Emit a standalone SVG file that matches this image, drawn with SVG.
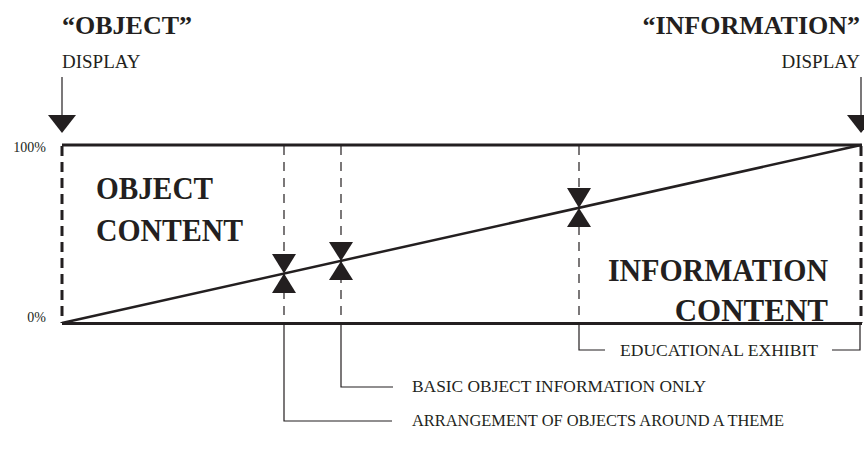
<svg xmlns="http://www.w3.org/2000/svg" width="864" height="455" viewBox="0 0 864 455">
<style>
.bt{font-family:"Liberation Serif","Times New Roman",serif;font-weight:bold;fill:#231f20}
.rt{font-family:"Liberation Serif","Times New Roman",serif;fill:#231f20}
.frame{stroke:#231f20;stroke-width:3;fill:none}
.edge{stroke:#231f20;stroke-width:3;stroke-dasharray:10 6;fill:none}
.guide{stroke:#231f20;stroke-width:1.2;stroke-dasharray:9 7;fill:none}
.lead{stroke:#231f20;stroke-width:1.2;fill:none}
.diag{stroke:#231f20;stroke-width:2.5;fill:none}
.tri{fill:#231f20}
</style>
<rect width="864" height="455" fill="#ffffff"/>
<g id="header-object">
<text class="bt" x="62" y="34" font-size="26">“OBJECT”</text>
<text class="rt" x="62" y="68" font-size="19">DISPLAY</text>
<line class="lead" x1="62" y1="77" x2="62" y2="118" stroke-width="1.5"/>
<polygon class="tri" points="48,115 76,115 62,133"/>
</g>
<g id="header-information">
<text class="bt" x="860" y="34" font-size="26" text-anchor="end">“INFORMATION”</text>
<text class="rt" x="860" y="68" font-size="19" text-anchor="end">DISPLAY</text>
<line class="lead" x1="861" y1="77" x2="861" y2="118" stroke-width="1.5"/>
<polygon class="tri" points="847,115 875,115 861,133"/>
</g>
<g id="chart">
<text class="rt" x="46" y="152" font-size="14" text-anchor="end">100%</text>
<text class="rt" x="46" y="322" font-size="14" text-anchor="end">0%</text>
<line class="frame" x1="62" y1="145" x2="862" y2="145"/>
<line class="frame" x1="62" y1="323.5" x2="862" y2="323.5"/>
<line class="edge" x1="62" y1="146" x2="62" y2="323"/>
<line class="edge" x1="861" y1="146" x2="861" y2="323"/>
<line class="diag" x1="62" y1="323" x2="861" y2="145"/>
</g>
<g id="object-content">
<text class="bt" x="96" y="199" font-size="31" textLength="117" lengthAdjust="spacingAndGlyphs">OBJECT</text>
<text class="bt" x="96" y="241" font-size="31" textLength="147" lengthAdjust="spacingAndGlyphs">CONTENT</text>
</g>
<g id="information-content">
<text class="bt" x="608" y="281" font-size="31" textLength="220" lengthAdjust="spacingAndGlyphs">INFORMATION</text>
<text class="bt" x="828" y="321" font-size="31" text-anchor="end">CONTENT</text>
</g>
<g id="connectors">
<line class="guide" x1="284" y1="146" x2="284" y2="323"/>
<line class="guide" x1="341" y1="146" x2="341" y2="323"/>
<line class="guide" x1="579" y1="146" x2="579" y2="323"/>
<polyline class="lead" points="284,323 284,421 392,421"/>
<polyline class="lead" points="341,323 341,387 393,387"/>
<polyline class="lead" points="579,323 579,350 605,350"/>
<polyline class="lead" points="832,350 860,350 860,323"/>
</g>
<g id="marker-arrangement">
<polygon class="tri" points="272,254 296,254 284,273.5"/>
<polygon class="tri" points="272,293 296,293 284,273.5"/>
</g>
<g id="marker-basic">
<polygon class="tri" points="329,242 353,242 341,261"/>
<polygon class="tri" points="329,280 353,280 341,261"/>
</g>
<g id="marker-educational">
<polygon class="tri" points="567,188 591,188 579,208"/>
<polygon class="tri" points="567,227 591,227 579,208"/>
</g>
<g id="label-educational">
<text class="rt" x="620" y="356" font-size="17" textLength="198" lengthAdjust="spacingAndGlyphs">EDUCATIONAL EXHIBIT</text>
</g>
<g id="label-basic">
<text class="rt" x="412" y="392" font-size="17" textLength="294" lengthAdjust="spacingAndGlyphs">BASIC OBJECT INFORMATION ONLY</text>
</g>
<g id="label-arrangement">
<text class="rt" x="412" y="426" font-size="17" textLength="372" lengthAdjust="spacingAndGlyphs">ARRANGEMENT OF OBJECTS AROUND A THEME</text>
</g>
</svg>
